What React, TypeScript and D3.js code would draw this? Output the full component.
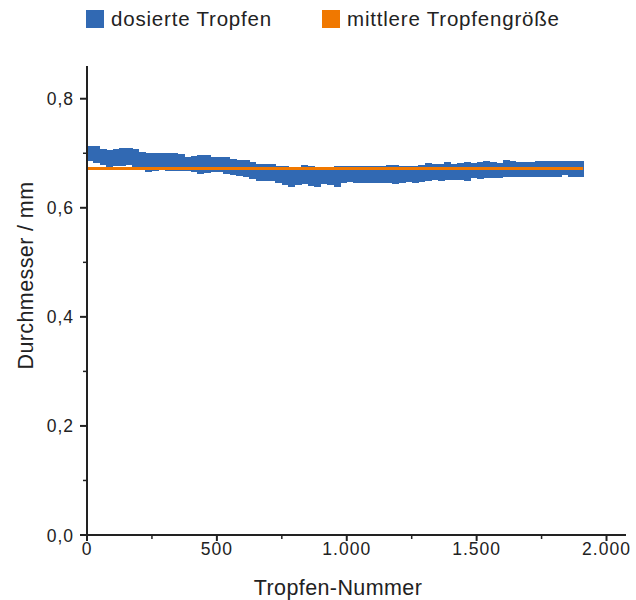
import * as d3 from "d3";

// drops per bin, and how many drops were dosed
const BIN_SIZE = 25;
const DROP_COUNT = 1910;

// highest / lowest diameter (mm) in each bin of 25 drops
const binUpper = [
  0.714, 0.714, 0.708, 0.706, 0.708, 0.709, 0.71, 0.707, 0.703, 0.701,
  0.701, 0.701, 0.701, 0.701, 0.698, 0.694, 0.695, 0.697, 0.696, 0.694,
  0.694, 0.693, 0.689, 0.688, 0.687, 0.684, 0.681, 0.681, 0.681, 0.677,
  0.676, 0.674, 0.673, 0.678, 0.676, 0.673, 0.673, 0.675, 0.677, 0.677,
  0.677, 0.677, 0.677, 0.677, 0.677, 0.677, 0.679, 0.678, 0.677, 0.677,
  0.677, 0.679, 0.683, 0.681, 0.681, 0.684, 0.68, 0.682, 0.684, 0.683,
  0.684, 0.685, 0.684, 0.682, 0.687, 0.686, 0.684, 0.684, 0.684, 0.685,
  0.686, 0.686, 0.686, 0.686, 0.686, 0.686, 0.686,
];
const binLower = [
  0.686, 0.683, 0.679, 0.675, 0.677, 0.677, 0.679, 0.673, 0.67, 0.666,
  0.668, 0.67, 0.667, 0.668, 0.667, 0.667, 0.666, 0.662, 0.664, 0.666,
  0.665, 0.662, 0.661, 0.658, 0.656, 0.653, 0.65, 0.65, 0.65, 0.646,
  0.641, 0.639, 0.641, 0.644, 0.64, 0.639, 0.644, 0.641, 0.639, 0.646,
  0.647, 0.645, 0.646, 0.646, 0.646, 0.646, 0.645, 0.644, 0.646, 0.647,
  0.646, 0.648, 0.65, 0.651, 0.65, 0.651, 0.651, 0.651, 0.65, 0.654,
  0.653, 0.655, 0.654, 0.654, 0.656, 0.656, 0.656, 0.656, 0.656, 0.656,
  0.657, 0.657, 0.657, 0.661, 0.657, 0.657, 0.657,
];

const meanSize = 0.672;

const xTicks = [0, 500, 1000, 1500, 2000];
const xMinor = [250, 750, 1250, 1750];
const yTicks = [0, 0.2, 0.4, 0.6, 0.8];
const yMinor = [0.1, 0.3, 0.5, 0.7];

const legendItems = [
  { label: "dosierte Tropfen", color: "#3169b3" },
  { label: "mittlere Tropfengröße", color: "#f07800" },
];

const width = 636;
const height = 600;
const margin = { top: 66, right: 10, bottom: 65, left: 87 };
const font = "'Liberation Sans', Arial, sans-serif";
const ink = "#222";

const de = d3.formatLocale({
  decimal: ",",
  thousands: ".",
  grouping: [3],
  currency: ["", " €"],
});
const fmtX = de.format(",d");
const fmtY = de.format(".1f");

export default function App() {
  const x = d3
    .scaleLinear()
    .domain([0, 2075])
    .range([margin.left, width - margin.right]);
  const y = d3
    .scaleLinear()
    .domain([0, 0.86])
    .range([height - margin.bottom, margin.top]);

  const x0 = x(0);
  const y0 = y(0);

  return (
    <svg
      width={width}
      height={height}
      style={{ position: "absolute", left: 0, top: 0, background: "#fff" }}
      fontFamily={font}
    >
      {/* legend */}
      <g>
        {legendItems.map((d, i) => {
          const lx = i === 0 ? 86 : 322;
          return (
            <g key={d.label}>
              <rect x={lx} y={10} width={18} height={18} fill={d.color} />
              <text
                x={lx + 25}
                y={26}
                fontSize={20.5}
                letterSpacing={0.8}
                fill={ink}
              >
                {d.label}
              </text>
            </g>
          );
        })}
      </g>

      {/* drop band */}
      <g shapeRendering="crispEdges">
        {binUpper.map((hi, i) => {
          const start = i * BIN_SIZE;
          const end = Math.min((i + 1) * BIN_SIZE, DROP_COUNT);
          return (
            <rect
              key={i}
              x={x(start)}
              width={x(end) - x(start) + 0.5}
              y={y(hi)}
              height={y(binLower[i]) - y(hi)}
              fill={legendItems[0].color}
            />
          );
        })}
      </g>

      {/* mean line */}
      <line
        x1={x(0)}
        x2={x(DROP_COUNT)}
        y1={y(meanSize)}
        y2={y(meanSize)}
        stroke={legendItems[1].color}
        strokeWidth={3}
      />

      {/* y axis */}
      <g stroke={ink} strokeWidth={2}>
        <line x1={x0} x2={x0} y1={margin.top} y2={y0 + 1} />
        {yTicks.map((t) => (
          <line key={t} x1={x0 - 7} x2={x0} y1={y(t)} y2={y(t)} />
        ))}
        {yMinor.map((t) => (
          <line key={t} x1={x0 - 4} x2={x0} y1={y(t)} y2={y(t)} strokeWidth={1.5} />
        ))}
      </g>
      {yTicks.map((t) => (
        <text
          key={t}
          x={x0 - 13}
          y={y(t) + 6.5}
          textAnchor="end"
          fontSize={17.5}
          letterSpacing={1}
          fill={ink}
        >
          {fmtY(t)}
        </text>
      ))}

      {/* x axis */}
      <g stroke={ink} strokeWidth={2}>
        <line x1={x0 - 1} x2={width - margin.right} y1={y0} y2={y0} />
        {xTicks.map((t) => (
          <line key={t} x1={x(t)} x2={x(t)} y1={y0} y2={y0 + 6} />
        ))}
        {xMinor.map((t) => (
          <line key={t} x1={x(t)} x2={x(t)} y1={y0} y2={y0 + 4} strokeWidth={1.5} />
        ))}
      </g>
      {xTicks.map((t) => (
        <text
          key={t}
          x={x(t)}
          y={y0 + 20}
          textAnchor="middle"
          fontSize={17.5}
          letterSpacing={1}
          fill={ink}
        >
          {fmtX(t)}
        </text>
      ))}

      {/* axis titles */}
      <text
        x={338}
        y={595}
        textAnchor="middle"
        fontSize={21.5}
        letterSpacing={0.4}
        fill={ink}
      >
        Tropfen-Nummer
      </text>
      <text
        transform={`translate(33, ${(margin.top + y0) / 2 - 25}) rotate(-90)`}
        textAnchor="middle"
        fontSize={21.5}
        letterSpacing={0.4}
        fill={ink}
      >
        Durchmesser / mm
      </text>
    </svg>
  );
}
